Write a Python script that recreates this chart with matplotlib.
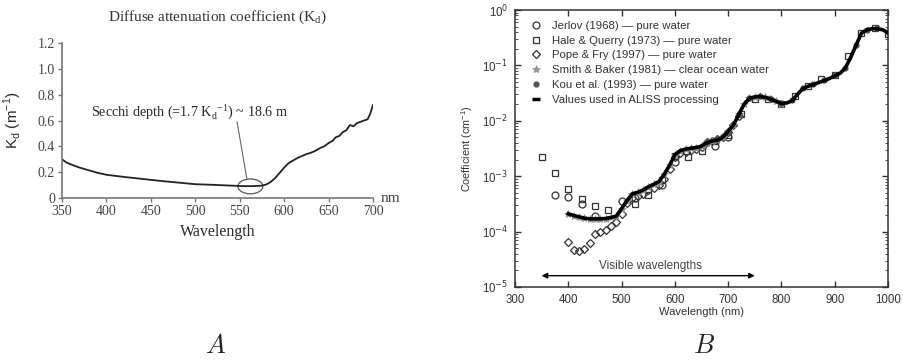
import matplotlib
matplotlib.use("Agg")
import matplotlib.pyplot as plt
from matplotlib.patches import Ellipse
import numpy as np

# ---- panel A : diffuse attenuation coefficient ----
kd_wl = [350, 355, 360, 370, 380, 390, 400, 420, 440, 460, 480, 500, 520, 540,
         555, 565, 575, 580, 585, 590, 595, 600, 605, 610, 615, 620, 625, 630,
         635, 640, 645, 650, 655, 658, 662, 666, 670, 674, 678, 682, 686, 690,
         694, 697, 700]
kd_val = [0.30, 0.275, 0.26, 0.235, 0.215, 0.195, 0.18, 0.163, 0.148, 0.133,
          0.12, 0.107, 0.102, 0.096, 0.092, 0.092, 0.096, 0.105, 0.125, 0.155,
          0.195, 0.235, 0.27, 0.29, 0.31, 0.325, 0.34, 0.35, 0.365, 0.385, 0.40,
          0.425, 0.445, 0.47, 0.48, 0.51, 0.525, 0.565, 0.555, 0.58, 0.59, 0.60,
          0.61, 0.655, 0.72]
kd_xticks = [350, 400, 450, 500, 550, 600, 650, 700]
kd_yticks = [0, 0.2, 0.4, 0.6, 0.8, 1.0, 1.2]
kd_yticklabels = ["0", "0.2", "0.4", "0.6", "0.8", "1.0", "1.2"]

# ---- panel B : absorption of water ----
jerlov_wl = [375, 400, 425, 450, 500, 525, 575, 600, 675, 700]
jerlov_val = [4.5e-4, 4.3e-4, 3.2e-4, 1.9e-4, 3.5e-4, 4.0e-4, 7.0e-4, 1.8e-3,
              3.5e-3, 5.0e-3]

hq_wl = [350, 375, 400, 425, 450, 475, 525, 550, 575, 600, 625, 650, 675, 700,
         725, 750, 775, 800, 825, 850, 875, 900, 925, 950, 975, 1000]
hq_val = [2.2e-3, 1.15e-3, 5.8e-4, 3.9e-4, 2.9e-4, 2.5e-4, 3.2e-4, 4.5e-4,
          8.5e-4, 2.3e-3, 2.2e-3, 2.8e-3, 4.4e-3, 5.5e-3, 1.3e-2, 2.5e-2,
          2.5e-2, 2.0e-2, 2.8e-2, 4.3e-2, 5.8e-2, 6.6e-2, 1.5e-1, 3.9e-1,
          4.8e-1, 3.7e-1]

pope_wl = [400, 410, 420, 430, 440, 450, 460, 470, 480, 490, 500, 510, 520,
           530, 540, 550, 560, 570, 580, 590, 600, 610, 620, 630, 640, 650,
           660, 670, 680, 690, 700, 710, 720]
pope_val = [6.6e-5, 4.7e-5, 4.5e-5, 4.9e-5, 6.3e-5, 9.2e-5, 9.8e-5, 1.06e-4,
            1.27e-4, 1.5e-4, 2.04e-4, 3.25e-4, 4.1e-4, 4.35e-4, 4.75e-4,
            5.65e-4, 6.2e-4, 6.95e-4, 8.95e-4, 1.35e-3, 2.22e-3, 2.64e-3,
            2.75e-3, 2.92e-3, 3.1e-3, 3.4e-3, 4.1e-3, 4.4e-3, 4.65e-3, 5.15e-3,
            6.2e-3, 8.3e-3, 1.23e-2]

smith_wl = [400, 410, 420, 430, 440, 450, 460, 470, 480, 490, 500, 510, 520,
            530, 540, 550, 560, 570, 580, 590, 600, 610, 620, 630, 640, 650,
            660, 670, 680, 690, 700, 710, 720, 730, 740, 750, 760, 770, 780,
            790, 800]
smith_val = [2.1e-4, 1.95e-4, 1.85e-4, 1.75e-4, 1.7e-4, 1.7e-4, 1.7e-4,
             1.72e-4, 1.8e-4, 1.9e-4, 2.6e-4, 3.6e-4, 4.8e-4, 5.1e-4, 5.6e-4,
             6.4e-4, 7.1e-4, 8.0e-4, 1.08e-3, 1.57e-3, 2.44e-3, 2.89e-3,
             3.09e-3, 3.19e-3, 3.29e-3, 3.49e-3, 4.0e-3, 4.3e-3, 4.5e-3, 5.0e-3,
             6.5e-3, 8.4e-3, 1.3e-2, 2.0e-2, 2.55e-2, 2.7e-2, 2.75e-2, 2.65e-2,
             2.45e-2, 2.25e-2, 2.05e-2]

kou_wl = [660, 680, 700, 720, 740, 760, 780, 800, 820, 840, 860, 880, 900,
          920, 940, 960, 980, 1000]
kou_val = [4.1e-3, 4.6e-3, 6.4e-3, 1.35e-2, 2.6e-2, 2.8e-2, 2.5e-2, 2.1e-2,
           2.4e-2, 3.9e-2, 4.6e-2, 5.4e-2, 6.6e-2, 9.0e-2, 2.3e-1, 4.4e-1,
           4.7e-1, 4.0e-1]

aliss_wl = [400, 410, 420, 430, 440, 450, 460, 470, 480, 490, 500, 510, 520,
            530, 540, 550, 560, 570, 580, 590, 600, 610, 620, 630, 640, 650,
            660, 670, 680, 690, 700, 710, 720, 730, 740, 750, 760, 770, 780,
            790, 800, 810, 820, 830, 840, 850, 860, 870, 880, 890, 900, 910,
            920, 930, 940, 950, 960, 970, 980, 990, 1000]
aliss_val = [2.1e-4, 1.95e-4, 1.85e-4, 1.75e-4, 1.7e-4, 1.7e-4, 1.7e-4,
             1.72e-4, 1.8e-4, 1.9e-4, 2.6e-4, 3.6e-4, 4.8e-4, 5.1e-4, 5.6e-4,
             6.4e-4, 7.1e-4, 8.0e-4, 1.08e-3, 1.57e-3, 2.44e-3, 2.89e-3,
             3.09e-3, 3.19e-3, 3.29e-3, 3.49e-3, 4.0e-3, 4.3e-3, 4.5e-3, 5.0e-3,
             6.5e-3, 8.4e-3, 1.3e-2, 2.0e-2, 2.55e-2, 2.7e-2, 2.75e-2, 2.65e-2,
             2.45e-2, 2.25e-2, 2.05e-2, 2.1e-2, 2.3e-2, 3.0e-2, 3.8e-2, 4.2e-2,
             4.5e-2, 4.9e-2, 5.3e-2, 5.8e-2, 6.5e-2, 7.2e-2, 9.0e-2, 1.4e-1,
             2.3e-1, 3.8e-1, 4.4e-1, 4.6e-1, 4.6e-1, 4.4e-1, 3.9e-1]

b_xticks = [300, 400, 500, 600, 700, 800, 900, 1000]
b_yticks = [1e-5, 1e-4, 1e-3, 1e-2, 1e-1, 1e0]
b_yticklabels = ["10$^{-5}$", "10$^{-4}$", "10$^{-3}$", "10$^{-2}$",
                 "10$^{-1}$", "10$^{0}$"]
visible_range = [350, 750]

serif = "Liberation Serif"
sans = "Liberation Sans"
txt = "#2a2a2a"

fig = plt.figure(figsize=(9.04, 3.63), dpi=100)

# ---------------- A ----------------
axA = fig.add_axes([0.0686, 0.4545, 0.344, 0.427])
axA.plot(kd_wl, kd_val, color="#222222", lw=1.3)
axA.set_xlim(350, 700)
axA.set_ylim(0, 1.2)
axA.set_xticks(kd_xticks)
axA.set_xticklabels([str(v) for v in kd_xticks], family=serif, fontsize=10,
                    color="#444444")
axA.set_yticks(kd_yticks)
axA.set_yticklabels(kd_yticklabels, family=serif, fontsize=10, color="#444444")
for s in ["top", "right"]:
    axA.spines[s].set_visible(False)
for s in ["left", "bottom"]:
    axA.spines[s].set_color("#777777")
    axA.spines[s].set_linewidth(1.2)
axA.tick_params(length=3, width=1, color="#777777", pad=2)
axA.set_ylabel("K$_\\mathregular{d}$ (m$^\\mathregular{-1}$)", family=sans,
               fontsize=11, color=txt, labelpad=10)
axA.set_xlabel("Wavelength", family=serif, fontsize=11.5, color=txt,
               labelpad=4)
axA.set_title("Diffuse attenuation coefficient (K$_\\mathregular{d}$)",
              family=serif, fontsize=11, color="#333333", pad=16)
axA.text(708, 0, "nm", family=serif, fontsize=11, color="#444444",
         va="center", ha="left", clip_on=False)
axA.add_patch(Ellipse((562, 0.09), 28, 0.115, fill=False, ec="#555555",
                      lw=0.9))
axA.plot([547, 558], [0.59, 0.15], color="#666666", lw=0.8)
axA.text(383, 0.67, "Secchi depth (=1.7 K$_\\mathregular{d}$$^\\mathregular{-1}$) ~ 18.6 m",
         family=serif, fontsize=10.2, color=txt, va="center", ha="left")

# ---------------- B ----------------
axB = fig.add_axes([0.5697, 0.2094, 0.4126, 0.763])
axB.set_yscale("log")
axB.plot(aliss_wl, aliss_val, color="black", lw=2.6, zorder=4,
         label="_nolegend_")
axB.plot(jerlov_wl, jerlov_val, ls="none", marker="o", ms=5, mfc="none",
         mec="#333333", mew=0.9, label="Jerlov (1968) \u2014 pure water")
axB.plot(hq_wl, hq_val, ls="none", marker="s", ms=4.5, mfc="none",
         mec="#333333", mew=0.9, label="Hale & Querry (1973) \u2014 pure water")
axB.plot(pope_wl, pope_val, ls="none", marker="D", ms=4, mfc="none",
         mec="#333333", mew=0.9, label="Pope & Fry (1997) \u2014 pure water")
axB.plot(smith_wl, smith_val, ls="none", marker="*", ms=6, mfc="#9a9a9a",
         mec="#8a8a8a", mew=0.5, zorder=3,
         label="Smith & Baker (1981) \u2014 clear ocean water")
axB.plot(kou_wl, kou_val, ls="none", marker="o", ms=3.5, mfc="#555555",
         mec="#555555", zorder=3, label="Kou et al. (1993) \u2014 pure water")
axB.plot([], [], ls="none", marker="_", ms=6, mew=2.5, color="black",
         label="Values used in ALISS processing")

axB.set_xlim(300, 1000)
axB.set_ylim(1e-5, 1e0)
axB.set_xticks(b_xticks)
axB.set_xticklabels([str(v) for v in b_xticks], family=sans, fontsize=8.3,
                    color="#333333")
axB.set_yticks(b_yticks)
axB.set_yticklabels(b_yticklabels, family=sans, fontsize=8.3, color="#333333")
axB.tick_params(which="both", direction="in", top=True, right=True,
                color="#333333")
axB.tick_params(which="major", length=4, width=1)
axB.tick_params(axis="y", which="major", pad=5)
axB.tick_params(axis="x", which="major", pad=5)
axB.tick_params(which="minor", length=2, width=0.6)
for s in axB.spines.values():
    s.set_color("#333333")
    s.set_linewidth(1.1)
axB.set_xlabel("Wavelength (nm)", family=sans, fontsize=8, color="#333333",
               labelpad=1)
axB.set_ylabel("Coefficient (cm$^\\mathregular{-1}$)", family=sans,
               fontsize=7.8, color="#333333", labelpad=5)

axB.annotate("", xy=(visible_range[1], 1.6e-5), xytext=(visible_range[0], 1.6e-5),
             arrowprops=dict(arrowstyle="<|-|>", color="black", lw=1.0,
                             mutation_scale=8, shrinkA=0, shrinkB=0))
axB.text(np.mean(visible_range) + 4, 1.85e-5, "Visible wavelengths",
         family=sans, fontsize=8.5, color="#444444", ha="center", va="bottom")

leg = axB.legend(loc="upper left", bbox_to_anchor=(0.02, 0.99), frameon=False,
                 prop=dict(family=sans, size=8.2), handlelength=1.0,
                 handletextpad=0.9, labelspacing=0.42, borderaxespad=0.3,
                 numpoints=1)
for t in leg.get_texts():
    t.set_color("#333333")

# panel letters
fig.text(0.238, 0.012, "$A$", fontsize=19, ha="center", va="bottom",
         color="#222222", math_fontfamily="cm")
fig.text(0.779, 0.012, "$B$", fontsize=19, ha="center", va="bottom",
         color="#222222", math_fontfamily="cm")

fig.savefig("out.png", dpi=100)
